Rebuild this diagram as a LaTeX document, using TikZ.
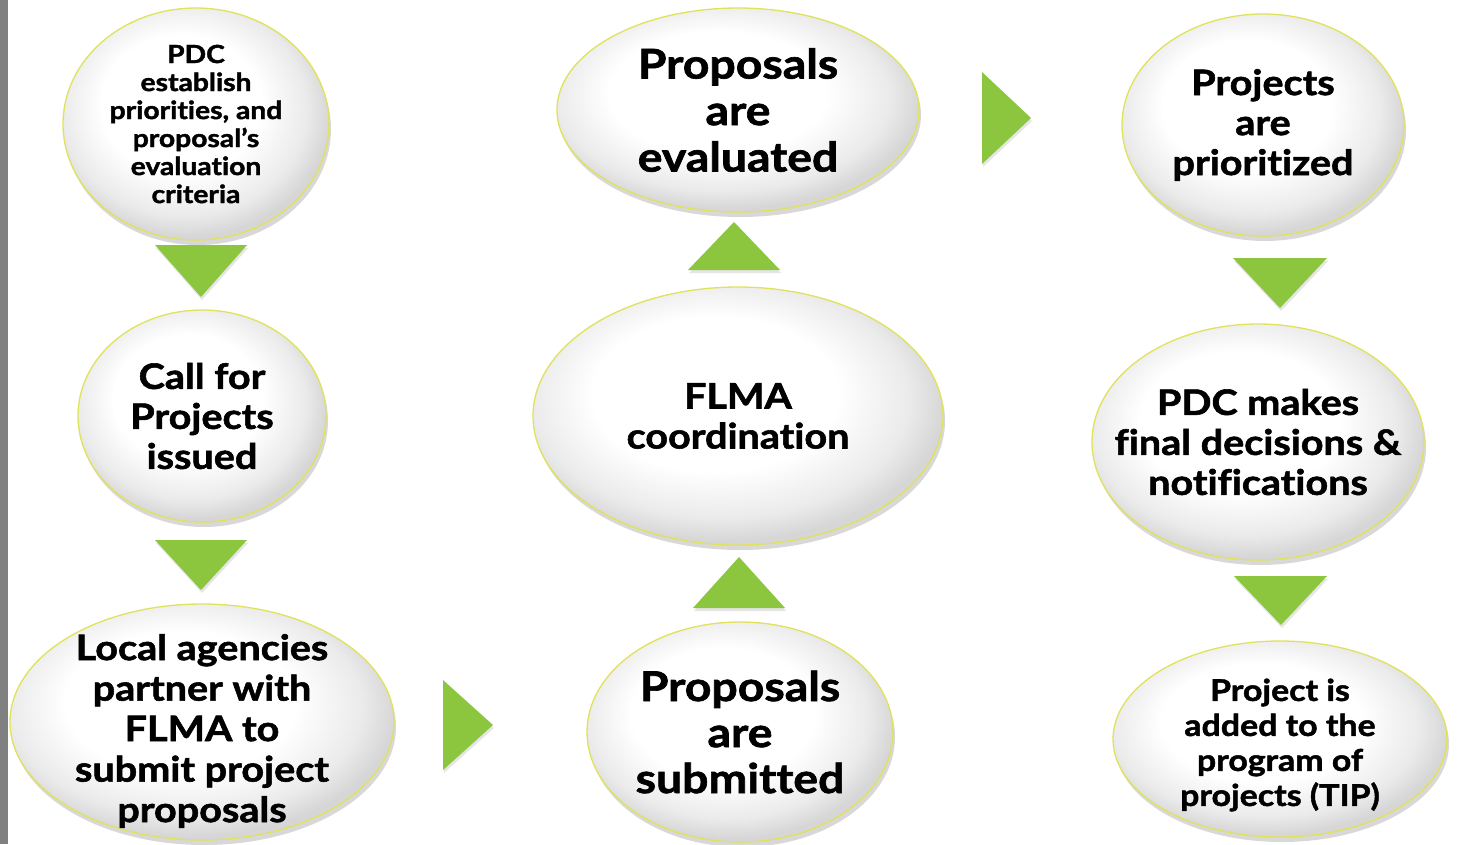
\documentclass[tikz,border=0pt]{standalone}
\usepackage{fontspec}
\setmainfont{Lato}[Ligatures=NoCommon,BoldFeatures={FakeBold=1.6,FakeStretch=1.13}]
\usetikzlibrary{shapes.geometric,shadows}
\definecolor{leafgreen}{HTML}{8CC63F}
\definecolor{rimyellow}{HTML}{E0E25A}
\definecolor{stripgray}{HTML}{808080}
\pgfdeclareradialshading{gloss}{\pgfpoint{-4bp}{6bp}}{color(0bp)=(white); color(15bp)=(white); color(23bp)=(black!8); color(27bp)=(black!16); color(50bp)=(black!16)}
\newcommand{\fsz}[2]{\fontsize{#1}{#2}\selectfont\bfseries}
\tikzset{
  bub/.style={ellipse, draw=rimyellow, line width=1.3pt, inner sep=0pt,
    shading=gloss,
    drop shadow={shadow xshift=2pt, shadow yshift=-5pt, opacity=0.3}},
  txt/.style={align=center, inner sep=0pt},
  tri/.style={fill=leafgreen,
    drop shadow={shadow xshift=1pt, shadow yshift=-3pt, opacity=0.2}},
}
\begin{document}
\begin{tikzpicture}[x=1pt,y=-1pt]
\useasboundingbox (0,0) rectangle (1478,844);
\fill[white] (0,0) rectangle (1478,844);
\fill[stripgray] (0,0) rectangle (8,844);

% left column
\node[bub, minimum width=266pt, minimum height=232pt] (pdc) at (196,124) {};
\node[txt, font=\fsz{25}{28}] at (pdc) {PDC\\establish\\priorities, and\\proposal's\\evaluation\\criteria};
\node[bub, minimum width=248pt, minimum height=212pt] (call) at (202,416) {};
\node[txt, font=\fsz{35}{40}] at (call) {Call for\\Projects\\issued};
\node[bub, minimum width=384pt, minimum height=236pt] (local) at (202,722) {};
\node[txt, font=\fsz{35}{40.5}] at ([yshift=-9pt]local.center) {Local agencies\\partner with\\FLMA to\\submit project\\proposals};

% middle column
\node[bub, minimum width=362pt, minimum height=204pt] (eval) at (738,110) {};
\node[txt, font=\fsz{41}{46.5}] at (eval) {Proposals\\are\\evaluated};
\node[bub, minimum width=410pt, minimum height=258pt] (flma) at (738,416) {};
\node[txt, font=\fsz{35}{40}] at (flma) {FLMA\\coordination};
\node[bub, minimum width=306pt, minimum height=220pt] (subm) at (740,732) {};
\node[txt, font=\fsz{41}{46}] at (subm) {Proposals\\are\\submitted};

% right column
\node[bub, minimum width=282pt, minimum height=222pt] (prio) at (1263,125) {};
\node[txt, font=\fsz{35}{40}] at (prio) {Projects\\are\\prioritized};
\node[bub, minimum width=332pt, minimum height=236pt] (final) at (1258,442) {};
\node[txt, font=\fsz{35}{40}] at (final) {PDC makes\\final decisions \&\\notifications};
\node[bub, minimum width=334pt, minimum height=196pt] (added) at (1280,739) {};
\node[txt, font=\fsz{30}{35}] at ([yshift=-6pt]added.center) {Project is\\added to the\\program of\\projects (TIP)};

% green arrows
\fill[tri] (155,245) -- (247,245) -- (201,297) -- cycle;
\fill[tri] (155,540) -- (247,540) -- (201,590) -- cycle;
\fill[tri] (443,680) -- (443,770) -- (493,725) -- cycle;
\fill[tri] (693,608) -- (785,608) -- (739,557) -- cycle;
\fill[tri] (688,270) -- (780,270) -- (734,222) -- cycle;
\fill[tri] (982,72) -- (982,164) -- (1031,118) -- cycle;
\fill[tri] (1233,258) -- (1327,258) -- (1280,308) -- cycle;
\fill[tri] (1234,576) -- (1327,576) -- (1281,625) -- cycle;
\end{tikzpicture}
\end{document}
